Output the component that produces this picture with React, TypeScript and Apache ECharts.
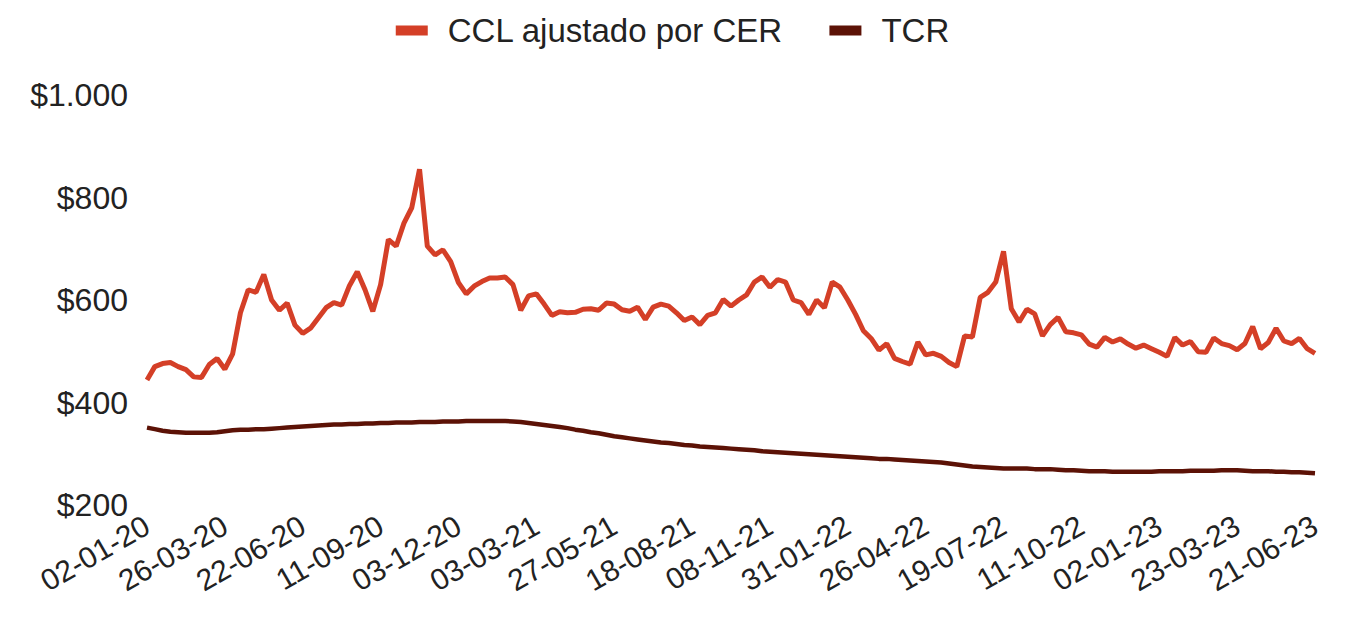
import React, { useEffect, useRef } from "react";
import * as echarts from "echarts";

const tickLabels = [
  "02-01-20", "26-03-20", "22-06-20", "11-09-20", "03-12-20", "03-03-21",
  "27-05-21", "18-08-21", "08-11-21", "31-01-22", "26-04-22", "19-07-22",
  "11-10-22", "02-01-23", "23-03-23", "21-06-23",
];
const pointsPerTick = 10;

const cclValues = [
  444, 470, 476, 478, 470, 464, 450, 449, 474, 486,
  465, 495, 575, 620, 615, 650, 600, 580, 594, 551,
  535, 545, 565, 585, 595, 590, 628, 655, 620, 578,
  630, 718, 705, 750, 780, 855, 705, 688, 698, 675,
  634, 612, 627, 636, 643, 643, 645, 630, 580, 608,
  612, 592, 570, 577, 575, 576, 582, 583, 580, 594,
  592, 581, 578, 586, 562, 586, 592, 588, 575, 560,
  567, 552, 570, 575, 601, 588, 600, 610, 635, 645,
  625, 640, 635, 600, 595, 572, 600, 585, 635, 625,
  600, 572, 540, 525, 502, 515, 486, 480, 475, 518,
  493, 496, 490, 478, 470, 530, 528, 605, 615, 635,
  695, 583, 557, 582, 573, 530, 552, 566, 538, 536,
  532, 514, 508, 527, 518, 524, 514, 506, 512, 505,
  498, 490, 527, 512, 519, 499, 498, 526, 515, 511,
  503, 515, 548, 505, 517, 545, 520, 515, 525, 505,
  496,
];

const tcrValues = [
  351, 348, 345, 343, 342, 341, 341, 341, 341, 342,
  344, 346, 347, 347, 348, 348, 349, 350, 351, 352,
  353, 354, 355, 356, 357, 357, 358, 358, 359, 359,
  360, 360, 361, 361, 361, 362, 362, 362, 363, 363,
  363, 364, 364, 364, 364, 364, 364, 363, 362, 360,
  358, 356, 354, 352, 350, 347, 345, 342, 340, 337,
  334, 332, 330, 328, 326, 324, 322, 321, 319, 317,
  316, 314, 313, 312, 311, 310, 309, 308, 307, 305,
  304, 303, 302, 301, 300, 299, 298, 297, 296, 295,
  294, 293, 292, 291, 290, 290, 289, 288, 287, 286,
  285, 284, 283, 281, 279, 277, 275, 274, 273, 272,
  271, 271, 271, 271, 270, 270, 270, 269, 268, 268,
  267, 266, 266, 266, 265, 265, 265, 265, 265, 265,
  266, 266, 266, 266, 267, 267, 267, 267, 268, 268,
  268, 267, 266, 266, 266, 265, 265, 264, 264, 263,
  262,
];

const seriesNames = ["CCL ajustado por CER", "TCR"];
const seriesColors = ["#D43F27", "#5C1206"];

export default function App() {
  const ref = useRef<HTMLDivElement>(null);
  useEffect(() => {
    if (!ref.current) return;
    const chart = echarts.init(ref.current, undefined, { renderer: "svg" });
    const categories = cclValues.map((_, i) =>
      i % pointsPerTick === 0 ? tickLabels[i / pointsPerTick] ?? "" : ""
    );
    const font = "'Liberation Sans', Arial, sans-serif";
    chart.setOption({
      animation: false,
      backgroundColor: "#ffffff",
      legend: {
        top: 9,
        left: "center",
        itemWidth: 32,
        itemHeight: 10,
        itemGap: 46,
        icon: "rect",
        textStyle: {
          fontSize: 33,
          fontFamily: font,
          color: "#222",
          padding: [0, 0, 0, 15],
        },
        data: seriesNames,
      },
      grid: { left: 147, right: 30, top: 95, bottom: 112, containLabel: false },
      xAxis: {
        type: "category",
        data: categories,
        boundaryGap: false,
        axisLine: { show: false },
        axisTick: { show: false },
        splitLine: { show: false },
        axisLabel: {
          interval: (idx: number) => idx % pointsPerTick === 0,
          rotate: 30,
          margin: 18,
          fontSize: 30,
          fontFamily: font,
          color: "#222",
        },
      },
      yAxis: {
        type: "value",
        min: 200,
        max: 1000,
        interval: 200,
        axisLine: { show: false },
        axisTick: { show: false },
        splitLine: { show: false },
        axisLabel: {
          margin: 19,
          fontSize: 32,
          fontFamily: font,
          color: "#222",
          formatter: (v: number) =>
            "$" + v.toLocaleString("de-DE", { maximumFractionDigits: 0 }),
        },
      },
      series: [
        {
          name: seriesNames[0],
          type: "line",
          data: cclValues,
          showSymbol: false,
          color: seriesColors[0],
          lineStyle: { width: 5, color: seriesColors[0] },
          z: 3,
        },
        {
          name: seriesNames[1],
          type: "line",
          data: tcrValues,
          showSymbol: false,
          color: seriesColors[1],
          lineStyle: { width: 4.5, color: seriesColors[1] },
          z: 2,
        },
      ],
    });
    return () => chart.dispose();
  }, []);
  return (
    <div
      ref={ref}
      style={{ position: "fixed", left: 0, top: 0, width: 1345, height: 617 }}
    />
  );
}
